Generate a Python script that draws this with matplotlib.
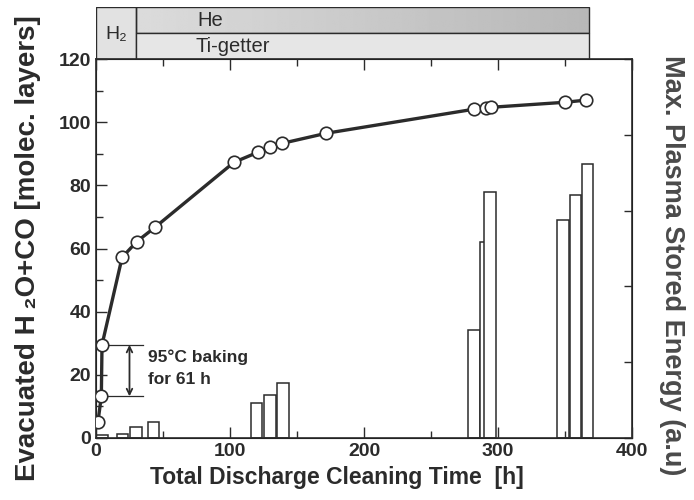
import matplotlib
matplotlib.use("Agg")
import matplotlib.pyplot as plt
import numpy as np
from matplotlib.ticker import MultipleLocator, NullFormatter

plt.rcParams['font.family'] = ['Liberation Sans', 'DejaVu Sans']

# evacuated H2O+CO vs total discharge cleaning time
t_h = [1.5, 4, 4.5, 19.5, 30.5, 44, 103, 121, 130, 139, 172, 282, 291, 294.5, 350, 366]
evac = [5.2, 13.2, 29.5, 57.2, 62.2, 66.7, 87.3, 90.5, 92, 93.3, 96.5, 104.1, 104.4, 104.7, 106.3, 107]

# max plasma stored energy bars (a.u.)
bar_t = [4.5, 20, 30, 43, 120, 130, 139.5, 282, 291, 294, 348.5, 358, 367]
bar_e = [0.04, 0.055, 0.14, 0.21, 0.46, 0.57, 0.73, 1.42, 2.58, 3.25, 2.87, 3.21, 3.62]

# conditioning phases (top band)
phase_h2 = (0, 30)
phase_he = (30, 368)

ink = '#2b2b2b'

fig = plt.figure(figsize=(6.94, 5.0), dpi=100)
ax = fig.add_axes([0.1383, 0.124, 0.7724, 0.758])
ax2 = ax.twinx()

ax2.bar(bar_t, bar_e, width=8.5, facecolor='white', edgecolor=ink, linewidth=1.1, zorder=2)
ax2.set_ylim(0, 5)
ax2.yaxis.set_major_locator(MultipleLocator(1))
ax2.yaxis.set_major_formatter(NullFormatter())
ax2.tick_params(axis='y', direction='in', length=6, width=1, color=ink)
ax2.set_ylabel('Max. Plasma Stored Energy (a.u)', rotation=270, fontsize=19.5, fontweight='bold',
               color='#4a4a4a', va='center')
ax2.yaxis.set_label_coords(1.075, 0.455)

ax.set_zorder(ax2.get_zorder() + 1)
ax.patch.set_visible(False)
ax.plot(t_h, evac, '-o', color=ink, lw=2.4, ms=9, mfc='white', mec=ink, mew=1.2, zorder=3)

ax.set_xlim(0, 400)
ax.set_ylim(0, 120)
ax.xaxis.set_major_locator(MultipleLocator(100))
ax.xaxis.set_minor_locator(MultipleLocator(50))
ax.yaxis.set_major_locator(MultipleLocator(20))
ax.yaxis.set_minor_locator(MultipleLocator(10))
ax.tick_params(which='both', direction='in', top=True, color=ink, width=1)
ax.tick_params(which='major', length=8, labelsize=14, labelcolor=ink)
ax.tick_params(which='minor', length=5)
for lab in ax.get_xticklabels() + ax.get_yticklabels():
    lab.set_fontweight('bold')
for s in ax.spines.values():
    s.set_color(ink)
    s.set_linewidth(1.2)

ax.set_xlabel('Total Discharge Cleaning Time  [h]', fontsize=16.5, fontweight='bold', color=ink, labelpad=3)
ax.xaxis.set_label_coords(0.45, -0.075)
ax.set_ylabel('Evacuated H\u2009\u2082O+CO [molec. layers]', fontsize=20, fontweight='bold',
              color=ink, labelpad=13)

# baking annotation
ax.plot([4.5, 35], [29.5, 29.5], color=ink, lw=0.9)
ax.plot([4, 35], [13.2, 13.2], color=ink, lw=0.9)
ax.annotate('', xy=(25, 13.2), xytext=(25, 29.5),
            arrowprops=dict(arrowstyle='<->', color=ink, lw=1.3, shrinkA=0, shrinkB=0))
ax.text(38.5, 25.5, '95\u00b0C baking', fontsize=12.5, fontweight='bold', color=ink, va='center')
ax.text(38.5, 18.5, 'for 61 h', fontsize=12.5, fontweight='bold', color=ink, va='center')

# top band showing gas / wall conditioning phases
band = fig.add_axes([0.1383, 0.882, 0.7724, 0.104])
band.axis('off')
grad = np.linspace(0.86, 0.72, 256).reshape(1, -1)
band.imshow(grad, cmap='gray', vmin=0, vmax=1, aspect='auto',
            extent=(phase_he[0], phase_he[1], 1, 2), zorder=1)
band.bar(phase_h2[0], 2, width=phase_h2[1] - phase_h2[0], bottom=0, align='edge',
         facecolor='#e2e2e2', edgecolor=ink, lw=1, zorder=2)
band.bar(phase_he[0], 1, width=phase_he[1] - phase_he[0], bottom=1, align='edge',
         facecolor='none', edgecolor=ink, lw=1, zorder=2)
band.bar(phase_he[0], 1, width=phase_he[1] - phase_he[0], bottom=0, align='edge',
         facecolor='#e6e6e6', edgecolor=ink, lw=1, zorder=2)
band.set_xlim(0, 400)
band.set_ylim(0, 2)
band.text(15, 0.95, 'H\u2082', fontsize=14, color=ink, ha='center', va='center', zorder=3)
band.text(85, 1.5, 'He', fontsize=14.5, color=ink, ha='center', va='center', zorder=3)
band.text(102, 0.5, 'Ti-getter', fontsize=14.5, color=ink, ha='center', va='center', zorder=3)

fig.savefig('out.png', dpi=100)
